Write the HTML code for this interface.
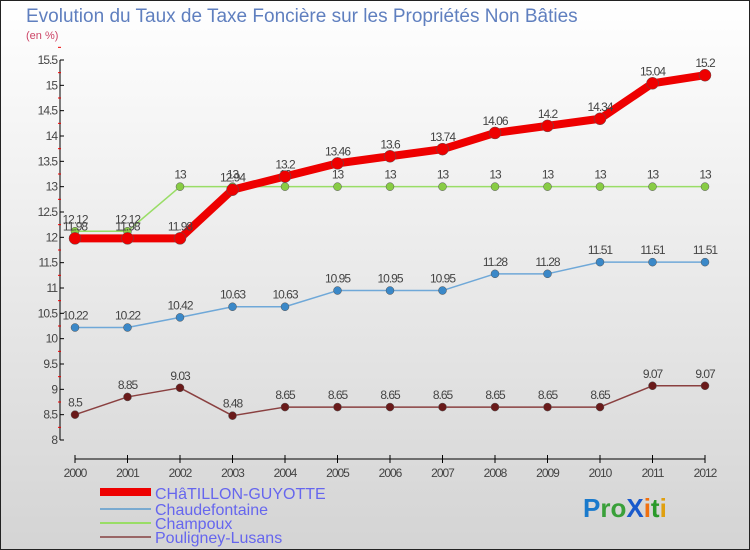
<!DOCTYPE html>
<html><head><meta charset="utf-8">
<style>
body{margin:0;}
#wrap{width:750px;height:550px;position:relative;overflow:hidden;background:linear-gradient(#ffffff,#d4d4d4);font-family:"Liberation Sans",sans-serif;}
svg text{font-family:"Liberation Sans",sans-serif;}
</style></head>
<body>
<div id="wrap">
<svg id="chart" width="750" height="550">
<rect x="0.5" y="0.5" width="749" height="549" fill="none" stroke="#222" stroke-width="1"/>
<text x="26" y="22" font-size="19" fill="#5f7fbf">Evolution du Taux de Taxe Foncière sur les Propriétés Non Bâties</text>
<text x="26" y="39" font-size="11" fill="#cc4466">(en %)</text>
<g id="axes"></g>
<g id="series"></g>
<g id="legend">
<rect x="100" y="488" width="51" height="8" fill="#e00"/>
<text x="155" y="499" font-size="16" fill="#6666ee">CHâTILLON-GUYOTTE</text>
<rect x="100" y="508" width="51" height="2" fill="#7aaad0"/>
<text x="155" y="515" font-size="16" fill="#6666ee">Chaudefontaine</text>
<rect x="100" y="522" width="51" height="2" fill="#99dd66"/>
<text x="155" y="529" font-size="16" fill="#6666ee">Champoux</text>
<rect x="100" y="536" width="51" height="2" fill="#996666"/>
<text x="155" y="543" font-size="16" fill="#6666ee">Pouligney-Lusans</text>
</g>
<g font-size="26" font-weight="bold">
<text x="583" y="517"><tspan fill="#1a7acc">P</tspan><tspan fill="#3aa03a">ro</tspan><tspan fill="#1a5acc">X</tspan><tspan fill="#f07010">i</tspan><tspan fill="#2a9a2a">t</tspan><tspan fill="#e0a010">i</tspan></text>
</g>
</svg>
</div>
<script>
const years=[2000,2001,2002,2003,2004,2005,2006,2007,2008,2009,2010,2011,2012];
const yTicks=[8,8.5,9,9.5,10,10.5,11,11.5,12,12.5,13,13.5,14,14.5,15,15.5];
const chatillon=[11.98,11.98,11.98,12.94,13.2,13.46,13.6,13.74,14.06,14.2,14.34,15.04,15.2];
const chaudefontaine=[10.22,10.22,10.42,10.63,10.63,10.95,10.95,10.95,11.28,11.28,11.51,11.51,11.51];
const champoux=[12.12,12.12,13,13,13,13,13,13,13,13,13,13,13];
const pouligney=[8.5,8.85,9.03,8.48,8.65,8.65,8.65,8.65,8.65,8.65,8.65,9.07,9.07];
const NS="http://www.w3.org/2000/svg";
function xs(i){return 75+i*(705-75)/(years.length-1);}
function ys(v){return 440-(v-8)*(380/7.5);}
function mk(tag,attrs,parent){const e=document.createElementNS(NS,tag);for(const k in attrs)e.setAttribute(k,attrs[k]);parent.appendChild(e);return e;}
const axes=document.getElementById('axes');
const ya=mk('line',{x1:60,y1:ys(15.5),x2:60,y2:ys(8),stroke:'#000','stroke-width':1},axes);


yTicks.forEach(t=>{
  const y=ys(t);
  mk('line',{x1:60,y1:y,x2:64,y2:y,stroke:'#000'},axes);
  mk('line',{x1:58,y1:ys(t+0.25),x2:61,y2:ys(t+0.25),stroke:'#e00'},axes);
  const tx=mk('text',{x:57,y:y+4,'font-size':12,fill:'#444','text-anchor':'end','letter-spacing':'-1'},axes);
  tx.textContent=String(t);
  
  
});
const xa=mk('line',{x1:75,y1:459,x2:705,y2:459,stroke:'#000'},axes);


years.forEach((yr,i)=>{
  mk('line',{x1:xs(i),y1:455,x2:xs(i),y2:463,stroke:'#000'},axes);
  const tx=mk('text',{x:xs(i),y:477,'font-size':12,fill:'#444','text-anchor':'middle','letter-spacing':'-1'},axes);
  tx.textContent=String(yr);
  
  
});
const sg=document.getElementById('series');
function draw(vals,name,color,width,r,ptColor){
  const g=mk('g',{},sg);
  
  
  const pts=vals.map((v,i)=>xs(i)+','+ys(v)).join(' ');
  const pl=mk('polyline',{points:pts,fill:'none',stroke:color,'stroke-width':width,'stroke-linejoin':'round'},g);
  
  
  vals.forEach((v,i)=>{
    const c=mk('circle',{cx:xs(i),cy:ys(v),r:r,fill:ptColor,stroke:'#555','stroke-width':0.5},g);
    
    
    const t=mk('text',{x:xs(i),y:ys(v)-8,'font-size':12,fill:'#444','text-anchor':'middle','letter-spacing':'-1'},g);
    t.textContent=String(v);
    
    
  });
}
draw(pouligney,'pouligney','#8a4040',1.5,4,'#6a1a1a');
draw(chaudefontaine,'chaudefontaine','#6fa8d8',1.5,4,'#3a88c8');
draw(champoux,'champoux','#99dd66',1.5,4,'#88cc44');
draw(chatillon,'chatillon','#ee0000',8,6,'#ee0000');
</script>
</body></html>
